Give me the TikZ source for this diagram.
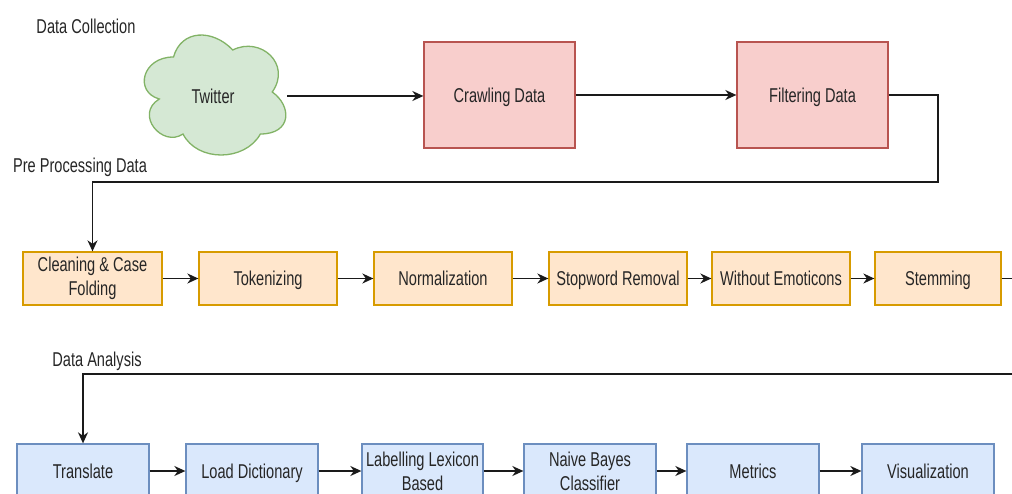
\documentclass[tikz,border=0pt]{standalone}
\usepackage{fontspec}
\setmainfont{Liberation Sans}[FakeStretch=0.73]
\usetikzlibrary{arrows.meta}
\definecolor{txt}{HTML}{262626}
\definecolor{lin}{HTML}{1A1A1A}
\definecolor{gfill}{HTML}{D5E8D4}\definecolor{gdraw}{HTML}{82B366}
\definecolor{rfill}{HTML}{F8CECC}\definecolor{rdraw}{HTML}{B85450}
\definecolor{ofill}{HTML}{FFE6CC}\definecolor{odraw}{HTML}{D79B00}
\definecolor{bfill}{HTML}{DAE8FC}\definecolor{bdraw}{HTML}{6C8EBF}
\tikzset{
  every node/.style={font=\fontsize{20}{24}\selectfont, text=txt, align=center, inner sep=0pt},
  one/.style={text height=15pt, text depth=0pt},
  redbox/.style={one, draw=rdraw, fill=rfill, line width=1.3pt, minimum width=151pt, minimum height=106pt},
  orbox/.style={draw=odraw, fill=ofill, line width=1.3pt, minimum height=53pt},
  bluebox/.style={draw=bdraw, fill=bfill, line width=1.3pt, minimum height=54pt},
  conn/.style={draw=lin, line width=1.4pt, -{Stealth[length=11pt,width=10pt,inset=3.5pt]}},
  lbl/.style={one}
}
\begin{document}
\begin{tikzpicture}[x=1pt,y=-1pt]
\useasboundingbox (0,0) rectangle (1012,494);
\clip (0,0) rectangle (1012,494);
% labels
\node[lbl] (l1) at (86,26) {Data Collection};
\node[lbl] (l2) at (80,165) {Pre Processing Data};
\node[lbl] (l3) at (97,359) {Data Analysis};
% cloud
\begin{scope}[shift={(134,22)}]
\path[draw=gdraw, fill=gfill, line width=1.3pt]
  (0.25*158,0.25*140) .. controls (0.05*158,0.25*140) and (0,0.5*140) .. (0.16*158,0.55*140)
  .. controls (0,0.66*140) and (0.18*158,0.9*140) .. (0.31*158,0.8*140)
  .. controls (0.4*158,140) and (0.7*158,140) .. (0.8*158,0.8*140)
  .. controls (158,0.8*140) and (158,0.6*140) .. (0.875*158,0.5*140)
  .. controls (158,0.3*140) and (0.8*158,0.1*140) .. (0.625*158,0.2*140)
  .. controls (0.5*158,0.05*140) and (0.3*158,0.05*140) .. (0.25*158,0.25*140) -- cycle;
\end{scope}
\node[one, minimum width=148pt, minimum height=117pt] (tw) at (213,96) {Twitter};
% row 1
\node[redbox] (crawl) at (499.5,95) {Crawling Data};
\node[redbox] (filt) at (812.5,95) {Filtering Data};
% row 2
\node[orbox, minimum width=139pt] (clean) at (92.5,278.5) {Cleaning \& Case\\Folding};
\node[orbox, one, minimum width=138pt] (tok) at (268,278.5) {Tokenizing};
\node[orbox, one, minimum width=138pt] (norm) at (443,278.5) {Normalization};
\node[orbox, one, minimum width=138pt] (stop) at (618,278.5) {Stopword Removal};
\node[orbox, one, minimum width=138pt] (emo) at (781,278.5) {Without Emoticons};
\node[orbox, one, minimum width=126pt] (stem) at (938,278.5) {Stemming};
% row 3
\node[bluebox, one, minimum width=132pt] (tr) at (83,471) {Translate};
\node[bluebox, one, minimum width=132pt] (ld) at (252,471) {Load Dictionary};
\node[bluebox, minimum width=121pt] (lab) at (422.5,471) {Labelling Lexicon\\Based};
\node[bluebox, minimum width=132pt] (nb) at (590,471) {Naive Bayes\\Classifier};
\node[bluebox, one, minimum width=132pt] (met) at (753,471) {Metrics};
\node[bluebox, one, minimum width=132pt] (vis) at (928,471) {Visualization};
% connectors
\draw[conn] (tw.east) -- (crawl.west |- tw.east);
\draw[conn] (crawl.east) -- (filt.west);
\coordinate (c1) at (938,182);
\draw[conn] (filt.east) -| (c1) -| (clean.north);
\foreach \a/\b in {clean/tok, tok/norm, norm/stop, stop/emo, emo/stem, tr/ld, ld/lab, lab/nb, nb/met, met/vis}
  \draw[conn] (\a.east) -- (\b.west);
\coordinate (c2) at (1040,278.5);
\coordinate (c3) at (1040,374);
\draw[conn] (stem.east) -- (c2) -- (c3) -| (tr.north);
\end{tikzpicture}
\end{document}
